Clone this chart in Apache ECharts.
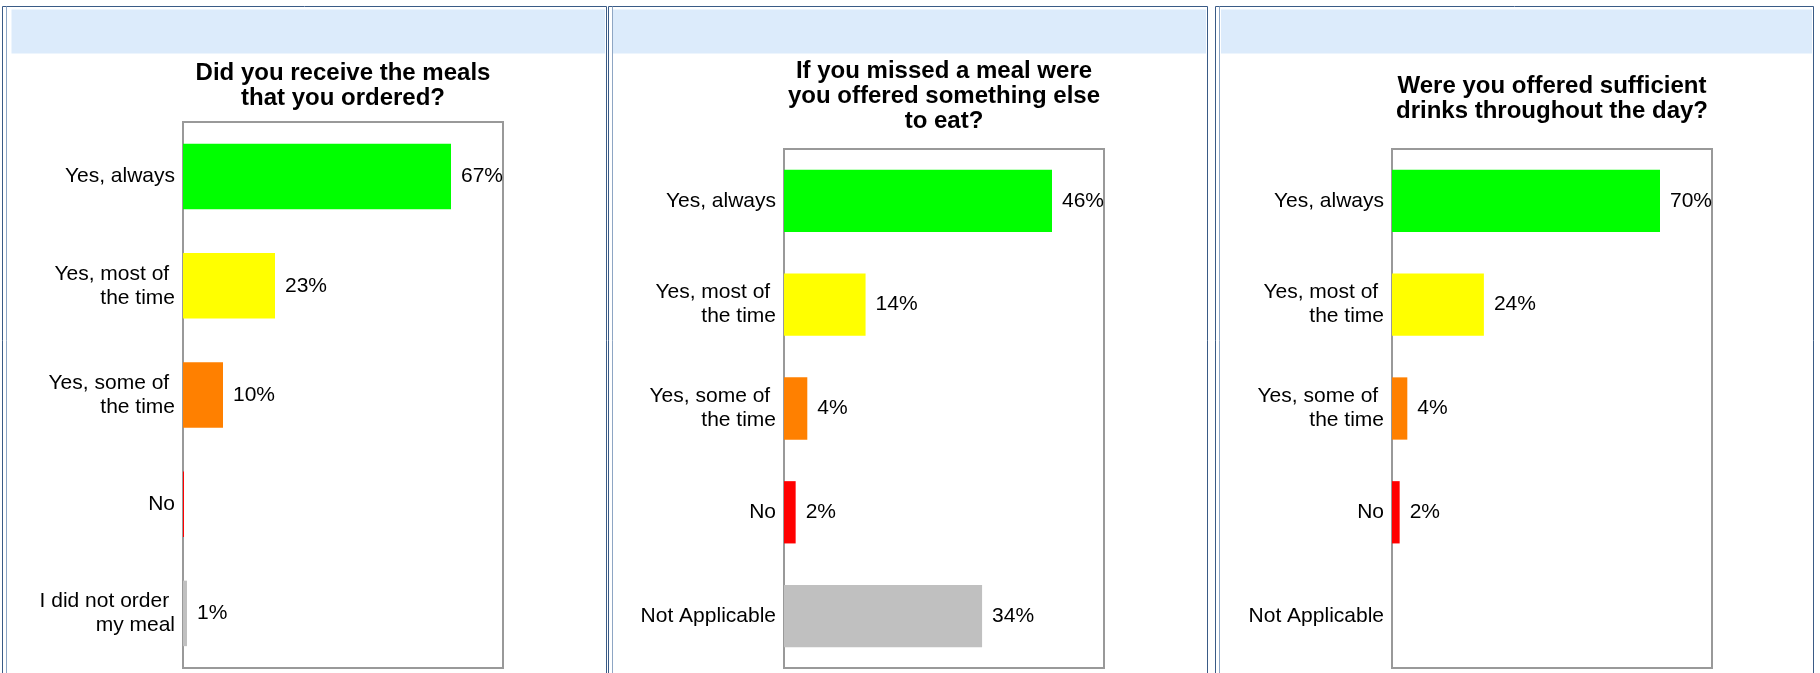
<!DOCTYPE html>
<html>
<head>
<meta charset="utf-8">
<script src="https://cdn.jsdelivr.net/npm/echarts@6/dist/echarts.min.js"></script>
<style>
  html, body { margin: 0; padding: 0; background: #fff; }
  #main { width: 1820px; height: 673px; }
</style>
</head>
<body>
<div id="main"></div>
<script>
  // question titles
  var titles = [
    'Did you receive the meals\nthat you ordered?',
    'If you missed a meal were\nyou offered something else\nto eat?',
    'Were you offered sufficient\ndrinks throughout the day?'
  ];
  // answer categories
  var mealCats = ['Yes, always', 'Yes, most of \nthe time', 'Yes, some of \nthe time', 'No', 'I did not order \nmy meal'];
  var otherCats = ['Yes, always', 'Yes, most of \nthe time', 'Yes, some of \nthe time', 'No', 'Not Applicable'];
  // percentages
  var mealsOrdered = [67, 23, 10, 0, 1];
  var offeredElse = [46, 14, 4, 2, 34];
  var drinksOffered = [70, 24, 4, 2, null];
  var barColors = ['#00ff00', '#ffff00', '#ff8000', '#ff0000', '#c0c0c0'];

  var FONT = 'Arial, "Liberation Sans", sans-serif';

  // panel frames + plot boxes (layout only)
  var panels = [
    { l: 2.5, r: 606.5, hl: 11.5, hr: 605, grid: { left: 183, top: 122, width: 320, height: 546 }, titleTop: 61 },
    { l: 608.5, r: 1207.5, hl: 613, hr: 1206, grid: { left: 784, top: 149, width: 320, height: 519 }, titleTop: 59 },
    { l: 1215.5, r: 1813.5, hl: 1221, hr: 1812, grid: { left: 1392, top: 149, width: 320, height: 519 }, titleTop: 74 }
  ];
  var cats = [mealCats, otherCats, otherCats];
  var values = [mealsOrdered, offeredElse, drinksOffered];

  var chart = echarts.init(document.getElementById('main'));

  var graphic = [];
  panels.forEach(function (p) {
    graphic.push({
      type: 'rect', silent: true,
      shape: { x: p.l, y: 6.5, width: p.r - p.l, height: 700 },
      style: { fill: null, stroke: '#3a5b86', lineWidth: 1 }
    });
    graphic.push({
      type: 'line', silent: true,
      shape: { x1: p.l + 4, y1: 6.5, x2: p.l + 4, y2: 700 },
      style: { stroke: '#8ea6c4', lineWidth: 1 }
    });
    graphic.push({
      type: 'rect', silent: true,
      shape: { x: p.hl, y: 9.5, width: p.hr - p.hl, height: 44 },
      style: { fill: '#dcebfb' }
    });
  });

  var option = {
    backgroundColor: '#fff',
    animation: false,
    graphic: graphic,
    title: panels.map(function (p, i) {
      return {
        text: titles[i],
        left: p.grid.left + p.grid.width / 2,
        top: p.titleTop,
        textAlign: 'center',
        padding: 0,
        textStyle: { fontFamily: FONT, fontSize: 24, fontWeight: 'bold', lineHeight: 25, color: '#000' }
      };
    }),
    grid: panels.map(function (p) {
      return {
        left: p.grid.left, top: p.grid.top, width: p.grid.width, height: p.grid.height,
        show: true, borderColor: '#999', borderWidth: 2, backgroundColor: 'transparent'
      };
    }),
    xAxis: panels.map(function (p, i) {
      return {
        type: 'value', gridIndex: i, min: 0,
        max: function (v) { return v.max / 0.8375; },
        show: false
      };
    }),
    yAxis: panels.map(function (p, i) {
      return {
        type: 'category', gridIndex: i, inverse: true, data: cats[i],
        axisLine: { show: false }, axisTick: { show: false }, splitLine: { show: false },
        axisLabel: { fontFamily: FONT, fontSize: 21, lineHeight: 24, color: '#000', margin: 8 }
      };
    }),
    series: panels.map(function (p, i) {
      return {
        type: 'bar', xAxisIndex: i, yAxisIndex: i,
        data: values[i],
        barCategoryGap: '40%',
        barMinHeight: 1,
        itemStyle: { color: function (d) { return barColors[d.dataIndex]; } },
        label: {
          show: true, position: 'right', distance: 10,
          fontFamily: FONT, fontSize: 21, color: '#000',
          formatter: function (d) { return d.value > 0 ? d.value + '%' : ''; }
        }
      };
    })
  };

  chart.setOption(option);
</script>
</body>
</html>
